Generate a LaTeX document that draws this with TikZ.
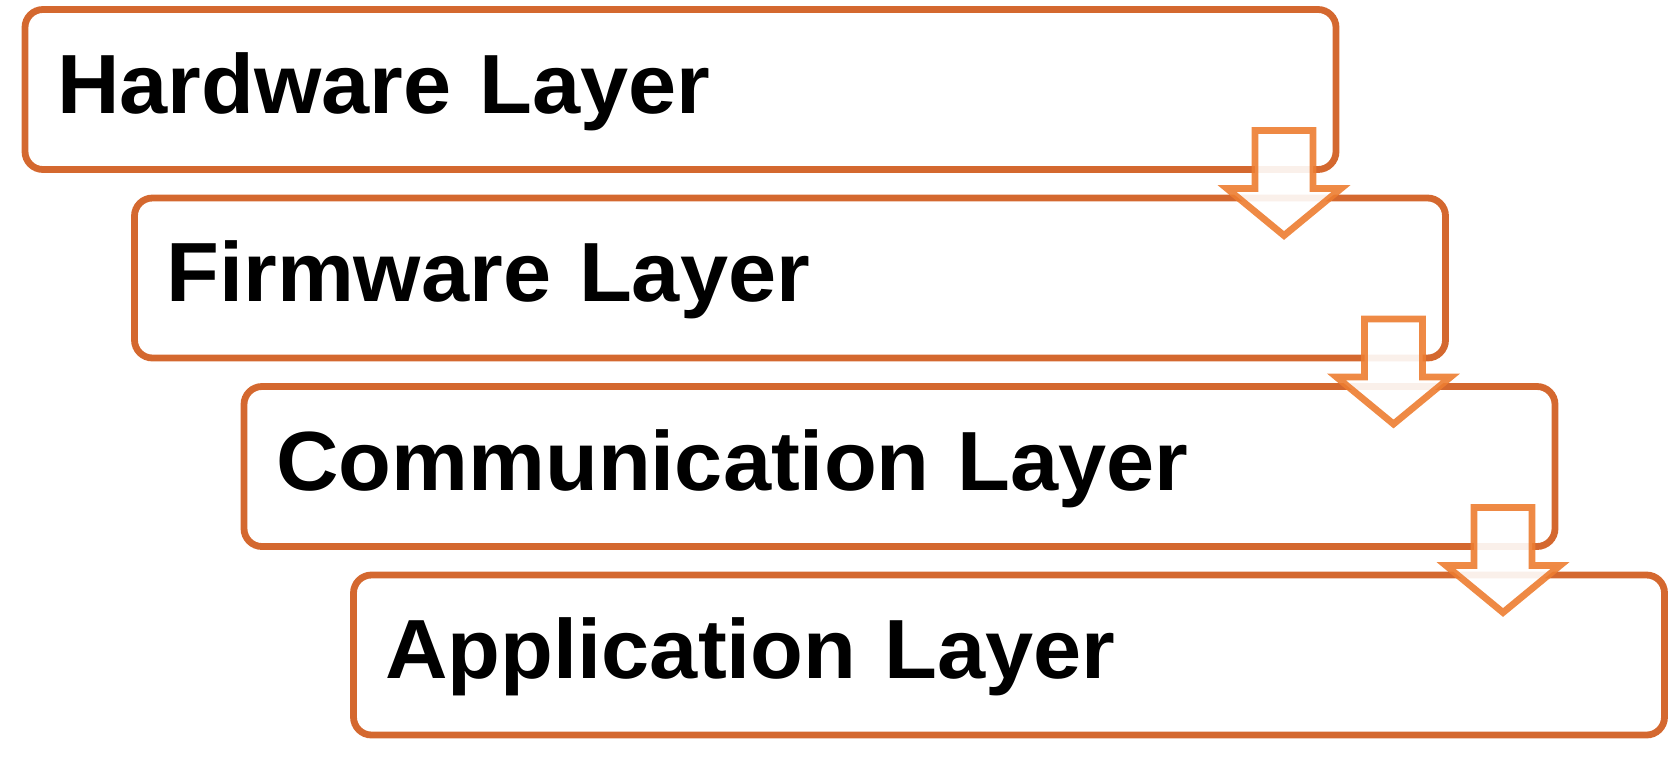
\documentclass[tikz,border=0pt]{standalone}
\usepackage{fontspec}
\newfontfamily\layerfont{Liberation Sans}[FakeStretch=1.03]
\usetikzlibrary{math,calc}

\definecolor{boxorange}{HTML}{D4682F}
\definecolor{arroworange}{HTML}{ED7D31}

\tikzset{
  layerbox/.style={draw=boxorange, line width=3.4pt, rounded corners=9pt, outer sep=0pt,
    minimum width=655.5pt, minimum height=80pt, inner xsep=16pt, inner ysep=0pt,
    text width=623.5pt, align=left, text height=23.5pt, text depth=0pt,
    font=\layerfont\bfseries\fontsize{42}{50}\selectfont},
  layerarrow/.style={draw=arroworange, draw opacity=0.9, fill=white, fill opacity=0.9,
    line width=3.4pt, line join=miter},
}

\begin{document}
\begin{tikzpicture}[x=0.5pt, y=-0.5pt]
  \tikzmath{%
    \bx = 680.5; \by = 89.5;
    \dx = 109.5; \dy = 188.5;
  }
  \useasboundingbox (0,0) rectangle (1669,762);

  \node[layerbox] (hw) at (\bx, \by) {Hardware Layer};
  \node[layerbox] (fw) at (\bx+\dx, \by+\dy) {Firmware Layer};
  \node[layerbox] (cm) at (\bx+2*\dx, \by+2*\dy) {Communication Layer};
  \node[layerbox] (ap) at (\bx+3*\dx, \by+3*\dy) {Application Layer};

  % block arrows over the corners
  \foreach \a/\b in {hw/fw, fw/cm, cm/ap}{
    \draw[layerarrow] ($(\a.south east)+(-81,-39)$) -- ++(58,0) -- ++(0,58) -- ++(28,0)
      -- ++(-57,47) -- ++(-57,-47) -- ++(28,0) -- cycle;
  }
\end{tikzpicture}
\end{document}
